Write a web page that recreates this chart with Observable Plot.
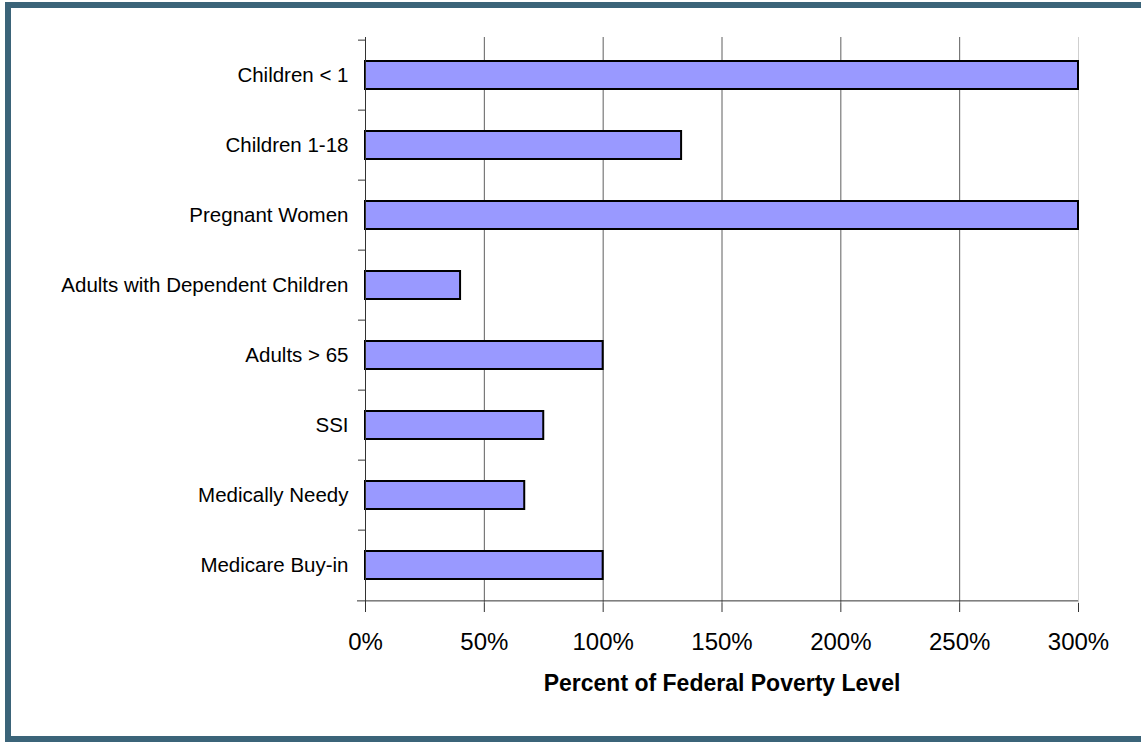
<!DOCTYPE html>
<html>
<head>
<meta charset="utf-8">
<script src="https://cdn.jsdelivr.net/npm/d3@7"></script>
<script src="https://cdn.jsdelivr.net/npm/@observablehq/plot@0.6"></script>
<style>
  html, body { margin: 0; padding: 0; background: #fff; overflow: hidden; width: 1141px; height: 742px; }
  #wrap { position: relative; width: 1141px; height: 742px; overflow: hidden; background: #fff; }
  .bar { position: absolute; background: #3b6479; }
  #chart { position: absolute; left: 0; top: 0; }
</style>
</head>
<body>
<div id="wrap">
  <div class="bar" style="left:5px; top:2px; width:1400px; height:6px;"></div>
  <div class="bar" style="left:5px; top:2px; width:6px; height:740px;"></div>
  <div class="bar" style="left:5px; top:736px; width:1400px; height:6px;"></div>
  <div id="chart"></div>
</div>
<script>
const categories = ["Children < 1", "Children 1-18", "Pregnant Women", "Adults with Dependent Children", "Adults > 65", "SSI", "Medically Needy", "Medicare Buy-in"];
const values = [300, 133, 300, 40, 100, 75, 67, 100];
const xTicks = [0, 50, 100, 150, 200, 250, 300];
const xLabel = "Percent of Federal Poverty Level";

const data = categories.map((c, i) => ({category: c, value: values[i]}));

const W = 1141, H = 742, mt = 37, mb = 139;
const step = (H - mt - mb) / categories.length;

const chart = Plot.plot({
  width: W,
  height: H,
  marginLeft: 365,
  marginRight: 63,
  marginTop: mt,
  marginBottom: mb,
  style: {fontFamily: "'Liberation Sans', Arial, sans-serif", background: "transparent", color: "black"},
  x: {domain: [0, 300], axis: null},
  y: {domain: categories, padding: 0, axis: null},
  marks: [
    Plot.gridX(xTicks.slice(1, 6), {stroke: "#5e5e5e", strokeOpacity: 1}),
    Plot.gridX([300], {stroke: "#cfcfcf", strokeOpacity: 1}),
    Plot.barX(data, {x: "value", y: "category", fill: "#9999ff", stroke: "black", strokeWidth: 2, insetTop: 21, insetBottom: 21}),
    Plot.ruleX([0], {stroke: "#333"}),
    Plot.axisY({ticks: categories, tickSize: 7, tickFormat: () => "", dy: -step / 2, stroke: "#333", label: null}),
    Plot.axisY({ticks: categories, tickSize: 0, tickPadding: 17, fontSize: 20.5, label: null, fill: "black"}),
    Plot.ruleY([categories[categories.length - 1]], {x1: 0, x2: 300, dy: step / 2, insetLeft: -8, stroke: "#333"}),
    Plot.axisX({ticks: xTicks, tickFormat: d => d + "%", tickSize: 9, tickPadding: 20, fontSize: 24, label: null, stroke: "#333", fill: "black"}),
    Plot.text([xLabel], {frameAnchor: "bottom", dy: 87, text: d => d, fontWeight: "bold", fontSize: 23, fill: "black"})
  ]
});
document.getElementById("chart").appendChild(chart);
</script>
</body>
</html>
